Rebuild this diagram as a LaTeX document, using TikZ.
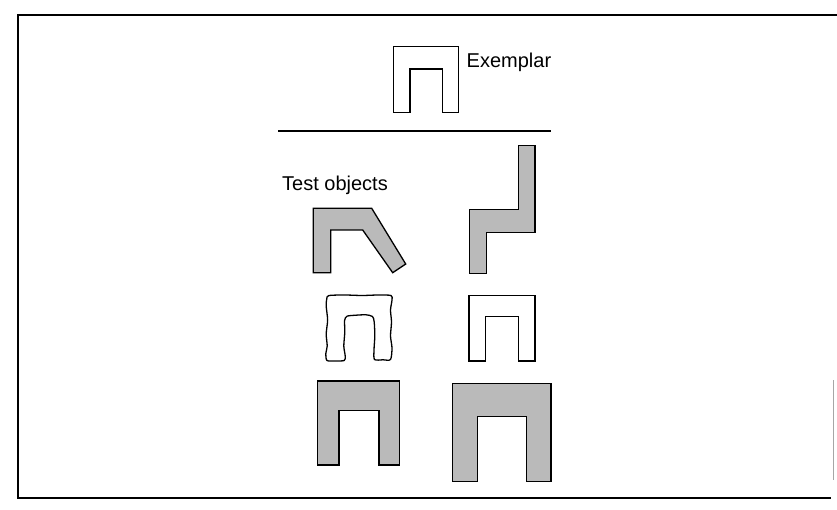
\documentclass[tikz,border=0pt]{standalone}
\usepackage{fontspec}
\setmainfont{Liberation Sans}
\begin{document}
\begin{tikzpicture}[x=1pt,y=-1pt,
  outline/.style={draw=black,line width=1.3pt,line join=miter,fill=white},
  shaded/.style={outline,fill=black!27},
  label/.style={font=\fontsize{20}{23}\selectfont,inner sep=0pt,anchor=base west},
  frameline/.style={line width=1.8pt}]
\useasboundingbox (0,0) rectangle (837,510);

% frame
\draw[frameline] (837,15) -- (18,15) -- (18,498) -- (831,498);
\draw[black!35,line width=0.8pt] (833,380) -- (833,480);

% exemplar
\draw[outline] (393.3,112.7) -- (393.3,46.7) -- (458.3,46.7) -- (458.3,112.7)
  -- (442.7,112.7) -- (442.7,69) -- (410,69) -- (410,112.7) -- cycle;
\node[label] (exemplar) at (466.5,67.5) {Exemplar};

% separating rule
\coordinate (ruleL) at (278,131);
\coordinate (ruleR) at (551,131);
\draw[line width=1.3pt] (ruleL) -- (ruleR);

\node[label] (tests) at (282,190.5) {Test objects};

% bent arch
\draw[shaded] (313.3,272.7) -- (313.3,208.3) -- (371.7,208.3) -- (405.7,264)
  -- (392.7,272.7) -- (362.7,230) -- (330.7,230) -- (330.7,272.7) -- cycle;

% stepped shape
\draw[shaded] (518.3,145.7) -- (535,145.7) -- (535,232.3) -- (486.7,232.3)
  -- (486.7,273.3) -- (469.3,273.3) -- (469.3,209.3) -- (518.3,209.3) -- cycle;

% hand-drawn arch
\draw[outline,line width=1.3pt] plot[smooth cycle,tension=0.45] coordinates {
  (329,295.5) (345,295) (362,295.5) (378,295) (391,295.5)
  (392,300) (390.5,310) (391.5,322) (390.5,336) (392,348) (390.5,359.5)
  (383,359.8) (374.5,359.5)
  (374,350) (374.8,336) (374.2,322) (372.5,316.5)
  (366,314.8) (356,315.2) (347,316.2) (344.6,320.5)
  (344.8,332) (343.8,346) (345.2,356) (344.2,360.5)
  (335,361) (327,360.5)
  (325.8,354) (327.2,346) (326.2,334) (327.6,320) (326.2,306) (326.8,298.5)
};

% exemplar-like arch
\draw[outline] (469,361) -- (469,295.7) -- (535,295.7) -- (535,361)
  -- (518.3,361) -- (518.3,316.7) -- (485.7,316.7) -- (485.7,361) -- cycle;

% scaled arches
\draw[shaded] (317.7,465) -- (317.7,381) -- (399.5,381) -- (399.5,465)
  -- (379,465) -- (379,410.7) -- (339,410.7) -- (339,465) -- cycle;
\draw[shaded] (452.3,481.7) -- (452.3,383.5) -- (551,383.5) -- (551,481.7)
  -- (526.7,481.7) -- (526.7,416.7) -- (477.3,416.7) -- (477.3,481.7) -- cycle;
\end{tikzpicture}
\end{document}
